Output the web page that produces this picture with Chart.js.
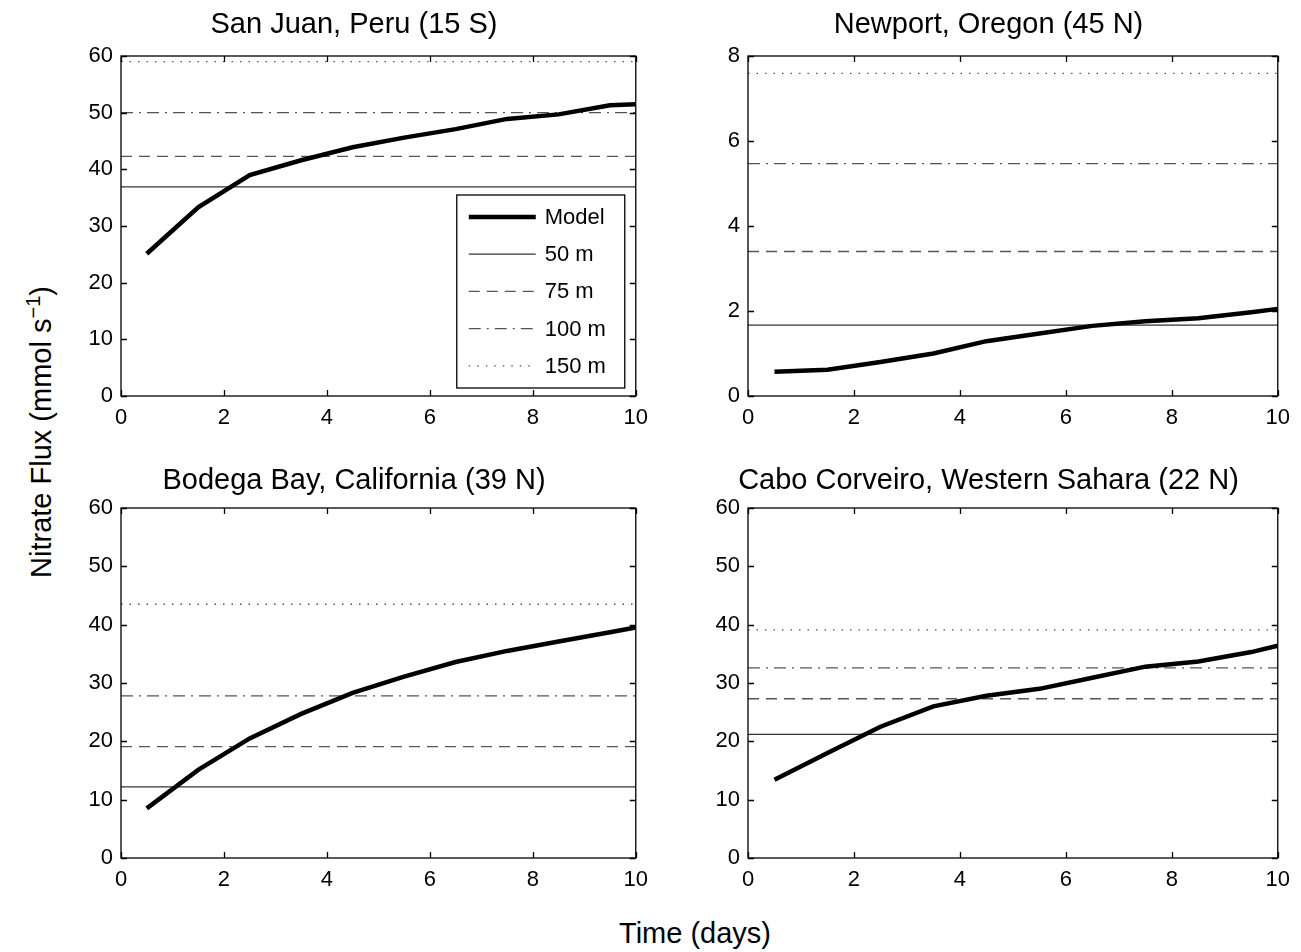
<!DOCTYPE html>
<html>
<head>
<meta charset="utf-8">
<title>Nitrate flux</title>
<script src="https://cdn.jsdelivr.net/npm/chart.js@4.4.0/dist/chart.umd.min.js"></script>
<style>
  body { margin: 0; background: #fff; font-family: 'Liberation Sans', Arial, sans-serif; }
  #page { position: relative; width: 1301px; height: 952px; }
  .box { position: absolute; }
  #ylab { position: absolute; left: 40px; top: 432px; font-size: 29px; white-space: nowrap;
          transform: translate(-50%, -50%) rotate(-90deg); }
  #ylab sup { font-size: 20px; }
  #xlab { position: absolute; left: 695px; top: 933px; font-size: 29px; white-space: nowrap;
          transform: translate(-50%, -50%); }
</style>
</head>
<body>
<div id="page">
  <div class="box" id="b0"><canvas id="c0"></canvas></div>
  <div class="box" id="b1"><canvas id="c1"></canvas></div>
  <div class="box" id="b2"><canvas id="c2"></canvas></div>
  <div class="box" id="b3"><canvas id="c3"></canvas></div>
  <div id="ylab">Nitrate Flux (mmol s<sup>&minus;1</sup>)</div>
  <div id="xlab">Time (days)</div>
</div>
<script>
// time axis (days) for the model output
var days = [0.5, 1.5, 2.5, 3.5, 4.5, 5.5, 6.5, 7.5, 8.5, 9.5, 10];
var depthNames = ['50 m', '75 m', '100 m', '150 m'];

var siteTitles = [
    'San Juan, Peru (15 S)',
    'Newport, Oregon (45 N)',
    'Bodega Bay, California (39 N)',
    'Cabo Corveiro, Western Sahara (22 N)'
];

// model flux per site
var sanJuanModel = [25.1, 33.3, 39.0, 41.6, 43.9, 45.6, 47.1, 48.9, 49.7, 51.3, 51.5];
var newportModel = [0.57, 0.62, 0.80, 1.00, 1.29, 1.47, 1.65, 1.76, 1.83, 1.97, 2.05];
var bodegaModel = [8.5, 15.1, 20.5, 24.7, 28.3, 31.1, 33.6, 35.5, 37.1, 38.7, 39.5];
var caboModel = [13.4, 18.0, 22.5, 26.0, 27.8, 29.0, 30.9, 32.8, 33.7, 35.3, 36.4];

// flux through 50, 75, 100, 150 m
var sanJuanDepth = [36.9, 42.3, 50.0, 59.0];
var newportDepth = [1.67, 3.40, 5.47, 7.59];
var bodegaDepth = [12.2, 19.1, 27.8, 43.5];
var caboDepth = [21.2, 27.3, 32.6, 39.1];

var yMax = [60, 8, 60, 60];
var yStep = [10, 2, 10, 10];

var models = [sanJuanModel, newportModel, bodegaModel, caboModel];
var depths = [sanJuanDepth, newportDepth, bodegaDepth, caboDepth];

// plot rectangles [left, top, width, height]
var areas = [
    [121, 56, 516, 340],
    [748, 56, 531, 340],
    [121, 508, 516, 350],
    [748, 508, 531, 350]
];
var padL = 50, padT = 56, padR = 20, padB = 40;
// title padding above the text (top row, bottom row); rest goes below
var titleTop = [8, 8, 12, 12];

var depthStyles = [
    { dash: [], color: '#333' },
    { dash: [11, 7], color: '#555' },
    { dash: [12, 6, 2, 6], color: '#555' },
    { dash: [1.5, 7], color: '#555' }
];

Chart.defaults.font.family = "'Liberation Sans', Arial, sans-serif";
Chart.defaults.color = '#000';

// box around the axes with inward ticks on all sides
var frameTicks = {
    id: 'frameTicks',
    afterDatasetsDraw: function (chart) {
        var a = chart.chartArea, ctx = chart.ctx, len = 6;
        var xs = chart.scales.x, ys = chart.scales.y;
        ctx.save();
        ctx.strokeStyle = '#000';
        ctx.lineWidth = 1.3;
        ctx.beginPath();
        xs.ticks.forEach(function (t) {
            var px = Math.round(xs.getPixelForValue(t.value)) + 0.5;
            ctx.moveTo(px, a.bottom); ctx.lineTo(px, a.bottom - len);
            ctx.moveTo(px, a.top); ctx.lineTo(px, a.top + len);
        });
        ys.ticks.forEach(function (t) {
            var py = Math.round(ys.getPixelForValue(t.value)) + 0.5;
            ctx.moveTo(a.left, py); ctx.lineTo(a.left + len, py);
            ctx.moveTo(a.right, py); ctx.lineTo(a.right - len, py);
        });
        ctx.stroke();
        ctx.strokeRect(a.left, a.top, a.right - a.left, a.bottom - a.top);
        ctx.restore();
    }
};

// legend drawn inside the plot, lower right
var insetLegend = {
    id: 'insetLegend',
    afterDraw: function (chart, args, opts) {
        if (!opts.show) return;
        var a = chart.chartArea, ctx = chart.ctx;
        var w = 168, h = 193;
        var x0 = a.right - 11 - w, y0 = a.bottom - 8 - h;
        ctx.save();
        ctx.fillStyle = '#fff';
        ctx.fillRect(x0, y0, w, h);
        ctx.strokeStyle = '#000';
        ctx.lineWidth = 1.3;
        ctx.strokeRect(x0, y0, w, h);
        ctx.font = "22px 'Liberation Sans', Arial, sans-serif";
        ctx.textBaseline = 'middle';
        chart.data.datasets.forEach(function (ds, i) {
            var y = y0 + 22 + i * 37.2;
            ctx.strokeStyle = ds.borderColor;
            ctx.lineWidth = ds.borderWidth;
            ctx.setLineDash(ds.borderDash || []);
            ctx.beginPath();
            ctx.moveTo(x0 + 12, y); ctx.lineTo(x0 + 79, y);
            ctx.stroke();
            ctx.setLineDash([]);
            ctx.fillStyle = '#000';
            ctx.fillText(ds.label, x0 + 88, y + 1);
        });
        ctx.restore();
    }
};

for (var i = 0; i < 4; i++) {
    var ar = areas[i];
    var box = document.getElementById('b' + i);
    box.style.left = (ar[0] - padL) + 'px';
    box.style.top = (ar[1] - padT) + 'px';
    box.style.width = (ar[2] + padL + padR) + 'px';
    box.style.height = (ar[3] + padT + padB) + 'px';

    var sets = [{
        label: 'Model',
        data: days.map(function (d, k) { return { x: d, y: models[i][k] }; }),
        borderColor: '#000',
        borderWidth: 4.5,
        pointRadius: 0,
        tension: 0
    }];
    depths[i].forEach(function (v, k) {
        sets.push({
            label: depthNames[k],
            data: [{ x: 0, y: v }, { x: 10, y: v }],
            borderColor: depthStyles[k].color,
            borderWidth: 1.3,
            borderDash: depthStyles[k].dash,
            pointRadius: 0
        });
    });

    new Chart(document.getElementById('c' + i), {
        type: 'line',
        data: { datasets: sets },
        options: {
            responsive: true,
            maintainAspectRatio: false,
            animation: false,
            layout: { padding: { right: padR, bottom: 0, left: 0, top: 0 } },
            plugins: {
                legend: { display: false },
                tooltip: { enabled: false },
                title: {
                    display: true,
                    text: siteTitles[i],
                    font: { size: 29, weight: 'normal', lineHeight: 1.2 },
                    color: '#000',
                    padding: { top: titleTop[i], bottom: padT - 34.8 - titleTop[i] }
                },
                insetLegend: { show: i === 0 }
            },
            scales: {
                x: {
                    type: 'linear',
                    min: 0, max: 10,
                    grid: { display: false, drawTicks: false, tickLength: 0 },
                    border: { display: false },
                    ticks: { stepSize: 2, padding: 9, maxRotation: 0, font: { size: 22 } },
                    afterFit: function (s) { s.height = padB; }
                },
                y: {
                    min: 0, max: yMax[i],
                    grid: { display: false, drawTicks: false, tickLength: 0 },
                    border: { display: false },
                    ticks: { stepSize: yStep[i], padding: 8, font: { size: 22 } },
                    afterFit: function (s) { s.width = padL; }
                }
            }
        },
        plugins: [frameTicks, insetLegend]
    });
}
</script>
</body>
</html>
